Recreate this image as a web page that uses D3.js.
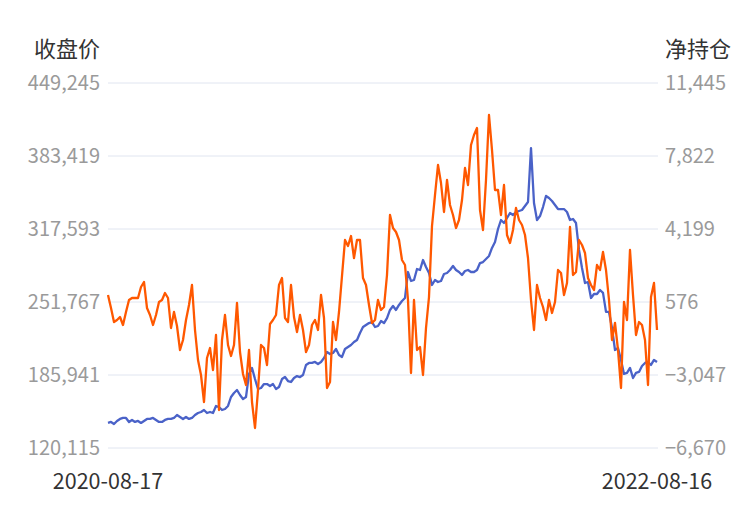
<!DOCTYPE html>
<html><head><meta charset="utf-8">
<script src="https://cdn.jsdelivr.net/npm/d3@7"></script>
<style>body{margin:0;background:#fff}svg{display:block}text{font-family:"Noto Sans CJK SC","Noto Sans",sans-serif}</style>
</head><body><svg id="c" width="750" height="510"></svg>
<script>
const startDate = "2020-08-17";
const endDate = "2022-08-16";
const leftTicks = [120115, 185941, 251767, 317593, 383419, 449245];
const rightTicks = [-6670, -3047, 576, 4199, 7822, 11445];
const closePrice = [142700,143600,141800,144500,146300,147200,147200,143600,145400,143600,144500,142700,144500,146300,146300,147200,145400,143600,143600,145400,146300,146300,147200,149900,148100,146300,148100,146300,147200,149900,151700,152600,154400,151700,152600,151700,158000,157100,154400,155300,158000,166100,169700,172400,167900,164300,166100,186900,192300,182300,173300,174200,177800,177800,176000,177800,173300,175100,182300,184100,180500,179600,183200,185000,184100,185900,195000,196800,196800,197700,195900,197700,201300,206700,204900,205800,209400,204000,202200,209400,211200,213000,215700,217500,223800,229200,231000,232800,233700,229200,230100,234600,232800,237300,244600,248200,244600,249100,252700,255400,278800,270700,271600,281500,280600,289600,283300,277900,267100,271600,269800,270700,277000,277900,280600,284200,280600,278800,276100,279700,280600,278800,278800,280600,286900,287800,290500,293300,300500,305900,317600,325700,323000,327500,332000,330200,332900,333800,334700,338300,341900,390600,341000,325700,329300,337400,347400,345500,342800,339200,335600,335600,335600,332900,325700,326600,323000,298700,282400,268900,269800,255400,259000,259000,262600,260000,242800,242800,228300,208500,210300,199500,186900,187800,192300,183200,187800,188700,194100,196800,197700,195000,199500,197700];
const netPosition = [923,278,-417,-317,-168,-565,80,675,775,775,775,1320,1569,278,-69,-565,-69,576,675,1023,775,-714,80,-615,-1806,-1310,-317,427,1420,-814,-2303,-3047,-4387,-2203,-1707,-2799,-1062,-4784,-1310,-69,-1558,-2104,-1558,526,-1905,-2997,-3543,-1806,-4387,-5677,-3791,-1558,-1707,-2551,-516,-317,-69,1420,1767,-218,-417,1420,-168,-913,-69,-814,-1905,-1558,-565,-317,-814,923,-218,-3692,-3394,-417,-1310,80,1866,3653,3355,3852,2760,3653,3653,1767,1420,427,-466,-317,675,179,328,1916,4894,4249,4050,3653,2660,2412,675,-2948,675,-1806,-1657,-3047,-714,824,4348,5886,7375,6482,5043,6631,5390,4894,4249,4646,5638,7226,6383,8368,8864,9212,5142,4149,6631,9857,8120,6135,6135,4894,6383,3901,3504,4149,5241,4646,4398,3901,2760,675,-814,1420,775,328,-317,675,30,576,2164,2015,923,1519,4298,1916,2065,3653,3405,3008,1767,1420,1172,2412,2164,3058,2164,675,-1310,-466,-1806,-3692,576,-317,3157,923,-1062,-417,-565,-1310,-3543,824,1519,-814];

const svg = d3.select("#c");
const L = 108, R = 657, T = 83, B = 448;
const n = closePrice.length;
const x = d3.scaleLinear().domain([0, n - 1]).range([L, R]);
const yL = d3.scaleLinear().domain([leftTicks[0], leftTicks[leftTicks.length-1]]).range([B, T]);
const yR = d3.scaleLinear().domain([rightTicks[0], rightTicks[rightTicks.length-1]]).range([B, T]);
const fmt = d3.format(",");

// grid
svg.append("g").selectAll("line").data(leftTicks).join("line")
  .attr("x1", L).attr("x2", R + 1).attr("y1", d => yL(d)).attr("y2", d => yL(d))
  .attr("stroke", "#e0e5f0").attr("stroke-width", 1);

// left axis
const ga = svg.append("g").attr("transform", `translate(${L - 8},0)`)
  .call(d3.axisLeft(yL).tickValues(leftTicks).tickFormat(fmt).tickSize(0).tickPadding(0));
ga.select(".domain").remove();
ga.selectAll("text").attr("fill", "#9a9a9a").style("font-size", "20px").style("font-family", '"Noto Sans CJK SC",sans-serif');

const gb = svg.append("g").attr("transform", `translate(${R + 8},0)`)
  .call(d3.axisRight(yR).tickValues(rightTicks).tickFormat(fmt).tickSize(0).tickPadding(0));
gb.select(".domain").remove();
gb.selectAll("text").attr("fill", "#9a9a9a").style("font-size", "20px").style("font-family", '"Noto Sans CJK SC",sans-serif');

// titles
svg.append("text").attr("x", 100).attr("y", 57).attr("text-anchor", "end")
  .attr("fill", "#333").style("font-size", "22px").text("收盘价");
svg.append("text").attr("x", 665).attr("y", 57).attr("text-anchor", "start")
  .attr("fill", "#333").style("font-size", "22px").text("净持仓");

// x labels
svg.append("text").attr("x", x(0)).attr("y", 489).attr("text-anchor", "middle")
  .attr("fill", "#333").style("font-size", "21.5px").text(startDate);
svg.append("text").attr("x", x(n - 1)).attr("y", 489).attr("text-anchor", "middle")
  .attr("fill", "#333").style("font-size", "21.5px").text(endDate);

// lines
svg.append("path").datum(closePrice)
  .attr("d", d3.line().x((d, i) => x(i)).y(d => yL(d)))
  .attr("fill", "none").attr("stroke", "#4a62c8").attr("stroke-width", 2.3).attr("stroke-linejoin", "round");
svg.append("path").datum(netPosition)
  .attr("d", d3.line().x((d, i) => x(i)).y(d => yR(d)))
  .attr("fill", "none").attr("stroke", "#ff5800").attr("stroke-width", 2.3).attr("stroke-linejoin", "round");
</script></body></html>
